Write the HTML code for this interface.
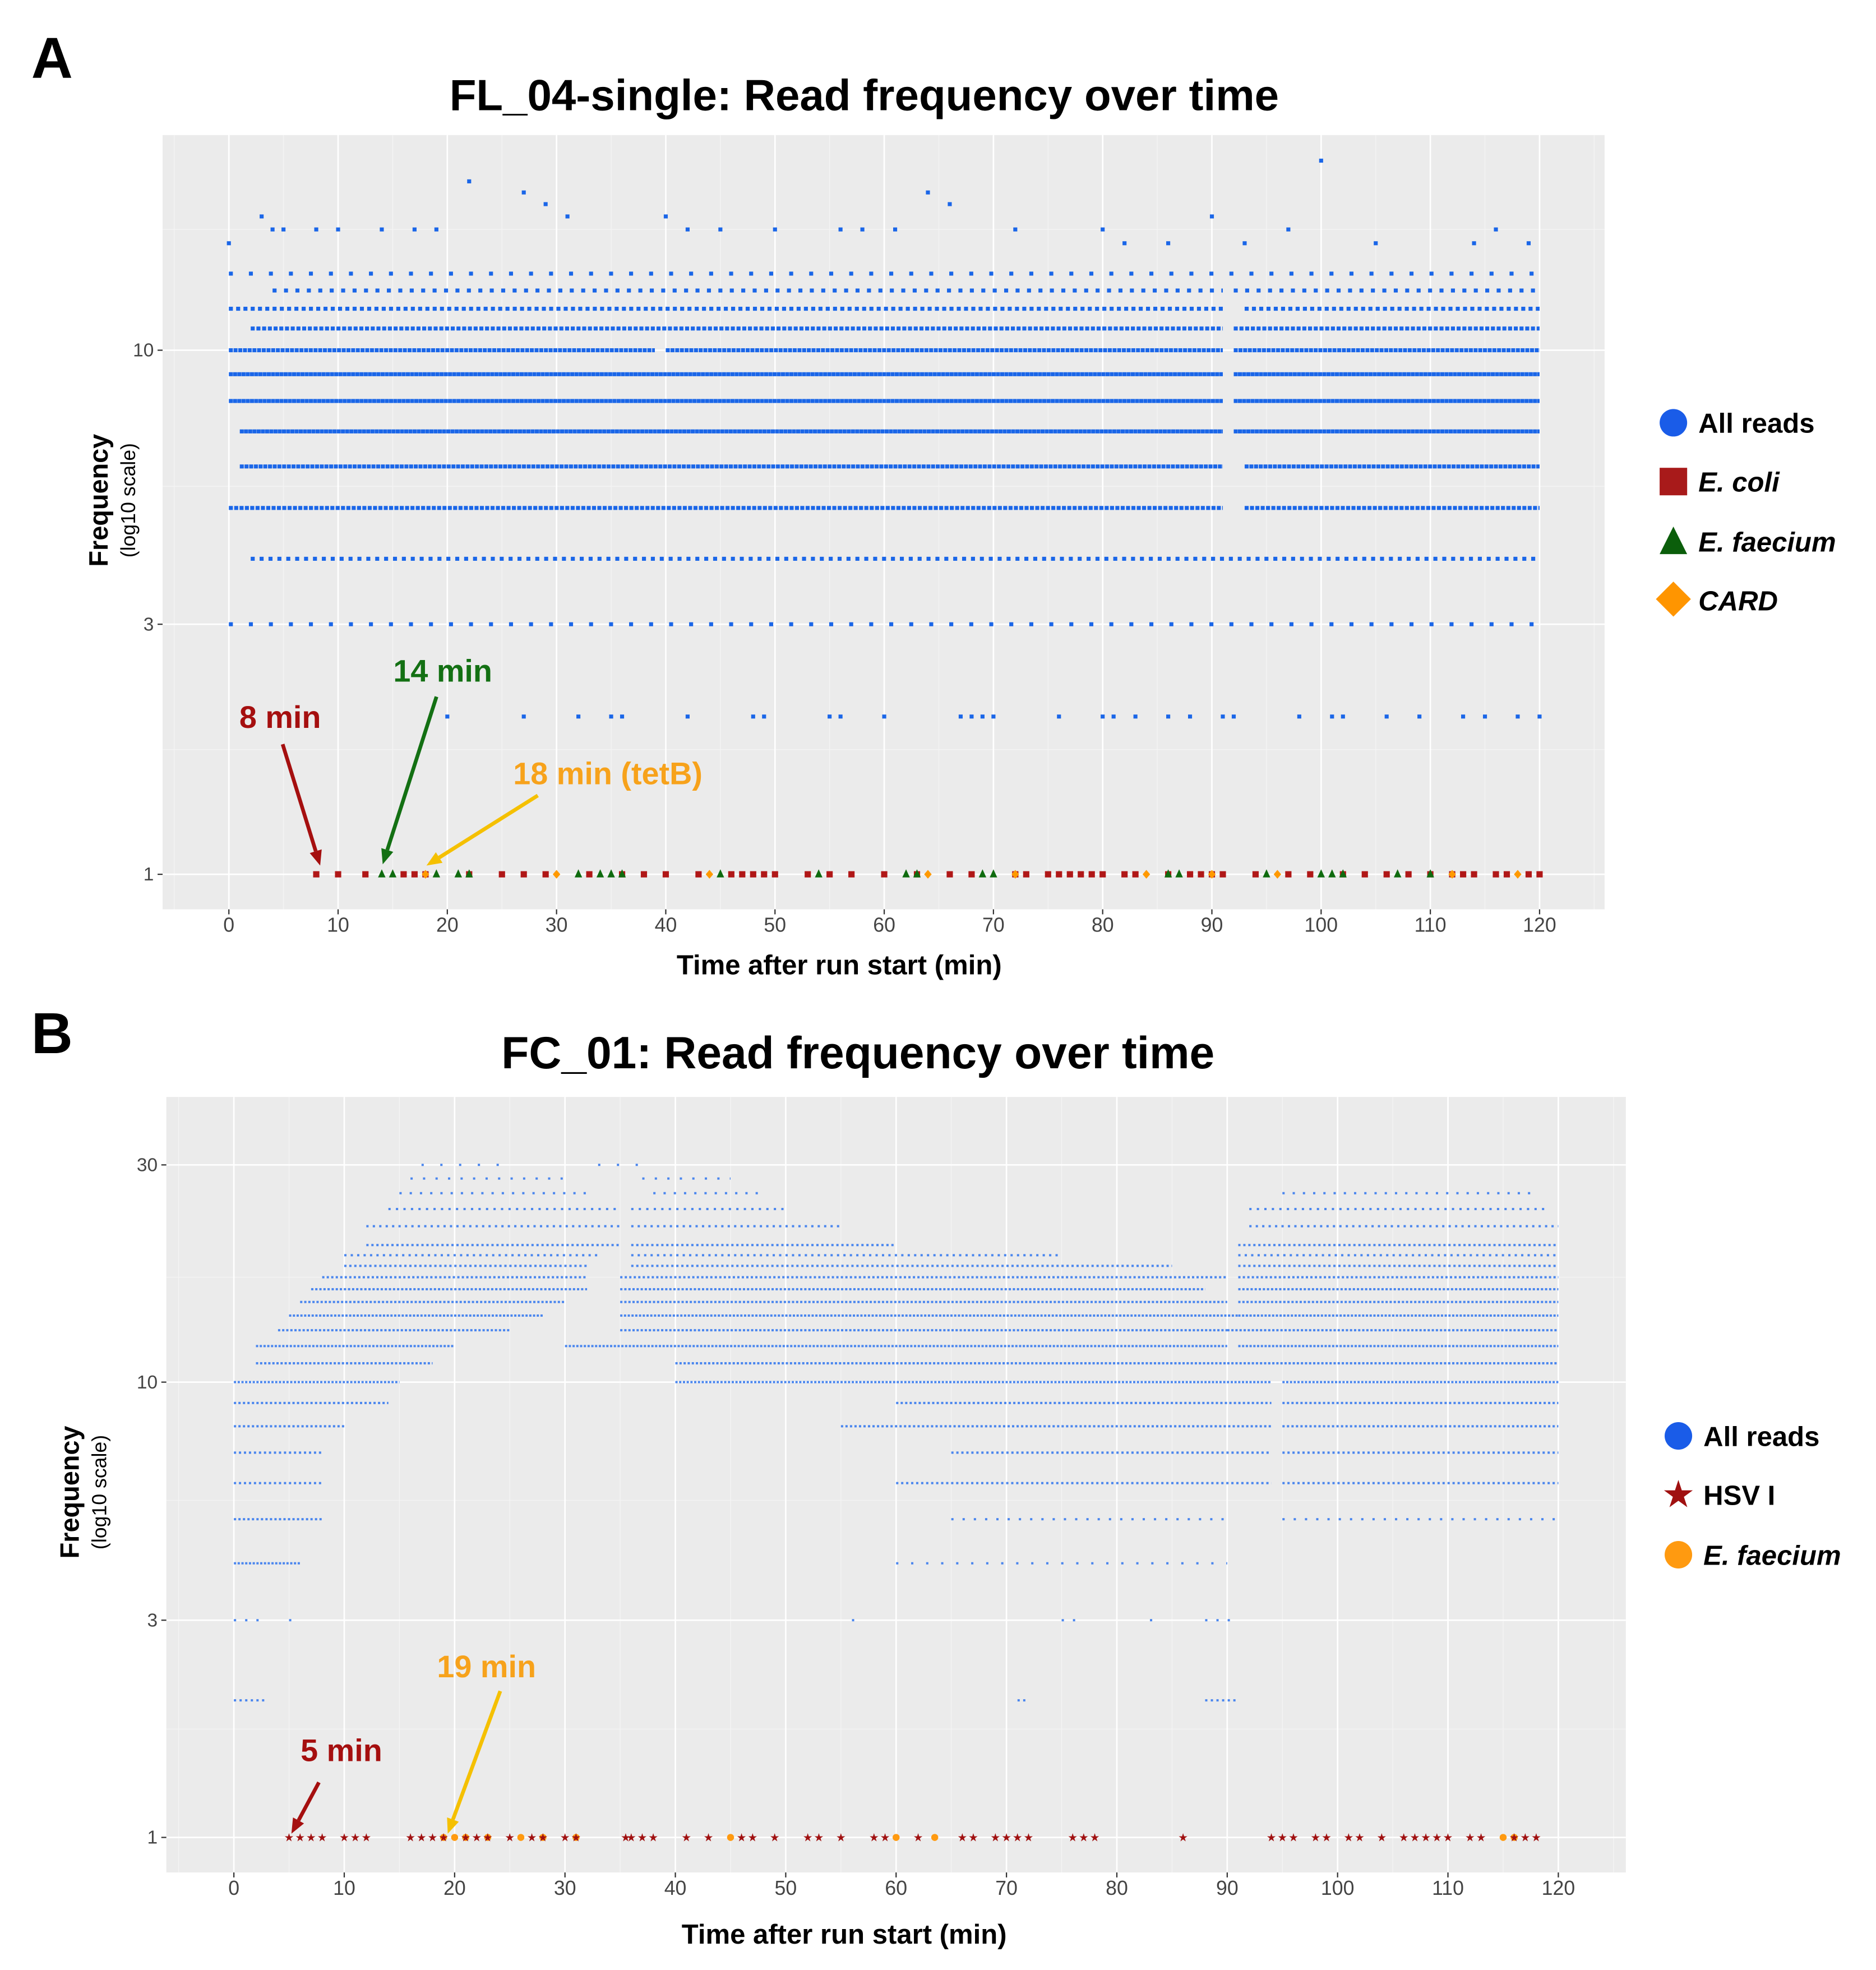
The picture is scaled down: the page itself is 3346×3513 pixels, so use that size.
<!DOCTYPE html>
<html><head><meta charset="utf-8">
<style>
html,body{margin:0;padding:0;background:#fff;}
svg{display:block;font-family:"Liberation Sans",sans-serif;}
</style></head>
<body>
<svg id="fig" width="3346" height="3513" viewBox="0 0 1500 1575" preserveAspectRatio="none">
  <g id="panelA"></g>
  <g id="panelB"></g>
</svg>
<script>
// ===== Panel A data =====
const aLevels = [3,4,5,6,7,8,9,10,11,12,13,14];
const aSegments = [
  [[0,120]],
  [[2,120]],
  [[0,91],[93,120]],
  [[1,91],[93,120]],
  [[1,91],[92,120]],
  [[0,91],[92,120]],
  [[0,91],[92,120]],
  [[0,39],[40,91],[92,120]],
  [[2,91],[92,120]],
  [[0,91],[93,120]],
  [[4,91],[92,120]],
  [[0,120]]
];
const aDensity = [0.2,0.45,0.75,0.85,0.95,0.95,0.95,0.85,0.7,0.55,0.35,0.2];
const aFreq2Times = [20,27,32,35,36,42,48,49,55,56,60,67,68,69,70,76,80,81,83,86,88,91,92,98,101,102,106,109,113,115,118,120];
const aHighTimes = [0,3,4,5,8,10,14,17,19,22,27,29,31,40,42,45,50,56,58,61,64,66,72,80,82,86,90,93,97,100,105,114,116,119];
const aHighFreq  = [16,18,17,17,17,17,17,17,17,21,20,19,18,18,17,17,17,17,17,17,20,19,17,17,16,16,18,16,17,23,16,16,17,16];
const aEcoli = [8,10,12.5,16,17,18,22,25,27,29,33,36,38,40,43,46,47,48,49,50,53,55,57,60,63,66,68,72,73,75,76,77,78,79,80,82,83,86,88,89,90,91,94,97,99,102,104,106,108,110,112,113,114,116,117,119,120];
const aFaecium = [14,15,19,21,22,32,34,35,36,45,54,62,63,69,70,86,87,95,100,101,102,107,110];
const aCard = [18,30,44,64,72,84,90,96,112,118];

// ===== Panel B data =====
const bLevels = [2,3,4,4,5,5,6,7,8,9,10,11,12,13,14,15,16,17,18,19,20,22,24,26,28,30];
const bSegments = [
  [[0,3],[71,72],[88,91]],
  [[0,3],[5,6],[56,57],[75,77],[83,84],[88,91]],
  [[0,6]],
  [[60,90]],
  [[0,8]],
  [[65,90],[95,120]],
  [[0,8],[60,94],[95,120]],
  [[0,8],[65,94],[95,120]],
  [[0,10],[55,94],[95,120]],
  [[0,14],[60,94],[95,120]],
  [[0,15],[40,94],[95,120]],
  [[2,18],[40,90],[90,120]],
  [[2,20],[30,90],[91,120]],
  [[4,25],[35,90],[90,120]],
  [[5,28],[35,91],[91,120]],
  [[6,30],[35,90],[91,120]],
  [[7,32],[35,88],[91,120]],
  [[8,32],[35,90],[91,120]],
  [[10,32],[36,85],[91,120]],
  [[10,33],[36,75],[91,120]],
  [[12,35],[36,60],[91,120]],
  [[12,35],[36,55],[92,120]],
  [[14,35],[36,50],[92,119]],
  [[15,32],[38,48],[95,118]],
  [[16,30],[37,45]],
  [[17,25],[33,38]]
];
const bDensity = [0.4,0.2,0.6,0.15,0.5,0.2,0.45,0.45,0.5,0.5,0.6,0.55,0.6,0.55,0.6,0.55,0.55,0.5,0.45,0.35,0.45,0.35,0.3,0.22,0.18,0.12];
const bHsv = [5,6,7,8,10,11,12,16,17,18,19,21,22,23,25,27,28,30,31,35.5,36,37,38,41,43,46,47,49,52,53,55,58,59,62,66,67,69,70,71,72,76,77,78,86,94,95,96,98,99,101,102,104,106,107,108,109,110,112,113,116,117,118];
const bFaecium = [19,20,21,23,26,28,31,45,60,63.5,115,116];

// ===== helpers =====
const NS = 'http://www.w3.org/2000/svg';
function mk(parent, tag, attrs, text){
  const e = document.createElementNS(NS, tag);
  for (const k in attrs) e.setAttribute(k, attrs[k]);
  if (text !== undefined) e.textContent = text;
  parent.appendChild(e);
  return e;
}

function drawPanel(g, cfg){
  const {x0,x1,y0,y1,t0px,t120px,yOne,decade} = cfg;
  const xs = t => t0px + (t120px - t0px) * t / 120;
  const ys = f => yOne - decade * Math.log10(f);
  const bg = mk(g,'rect',{x:x0,y:y0,width:x1-x0,height:y1-y0,fill:'#ebebeb'});
  
  
  for (let t=-5; t<=125; t+=10){
    const x = xs(t); if (x<=x0||x>=x1) continue;
    mk(g,'line',{x1:x,x2:x,y1:y0,y2:y1,stroke:'#f4f4f4','stroke-width':0.6});
  }
  cfg.minorY.forEach(f=>{ const y=ys(f); mk(g,'line',{x1:x0,x2:x1,y1:y,y2:y,stroke:'#f4f4f4','stroke-width':0.6}); });
  for (let t=0; t<=120; t+=10){
    const x = xs(t);
    const gl = mk(g,'line',{x1:x,x2:x,y1:y0,y2:y1,stroke:'#fff','stroke-width':1.2});
    
    
    mk(g,'line',{x1:x,x2:x,y1:y1,y2:y1+4,stroke:'#333','stroke-width':1});
    const tl = mk(g,'text',{x:x,y:y1+18,'font-size':16,fill:'#444','text-anchor':'middle'}, String(t));
    
    
  }
  cfg.yTicks.forEach(f=>{
    const y = ys(f);
    const gl = mk(g,'line',{x1:x0,x2:x1,y1:y,y2:y,stroke:'#fff','stroke-width':1.2});
    
    
    mk(g,'line',{x1:x0-4,x2:x0,y1:y,y2:y,stroke:'#333','stroke-width':1});
    const tl = mk(g,'text',{x:x0-7,y:y+5,'font-size':15,fill:'#444','text-anchor':'end'}, String(f));
    
    
  });
  cfg.levels.forEach((lvl,i)=>{
    const d = cfg.density[i];
    const dash = cfg.dot, gap = cfg.dot*(1/d - 1);
    cfg.segments[i].forEach(s=>{
      const ln = mk(g,'line',{x1:xs(s[0]),x2:xs(s[1]),y1:ys(lvl),y2:ys(lvl),stroke:cfg.blue,
        'stroke-width':cfg.dotH,'stroke-dasharray':dash+' '+gap.toFixed(2)});
      
      
    });
  });
  if (cfg.extraPts) cfg.extraPts.forEach(p=>{
    const c = mk(g,'rect',{x:xs(p[0])-cfg.dot/2,y:ys(p[1])-cfg.dotH/2,width:cfg.dot,height:cfg.dotH,fill:cfg.blue});
    
    
  });
  return {xs,ys};
}

function arrow(g, x1,y1,x2,y2,color,name){
  const a = Math.atan2(y2-y1,x2-x1), L=12, W=5;
  const bx = x2 - L*Math.cos(a), by = y2 - L*Math.sin(a);
  const ln = mk(g,'line',{x1:x1,y1:y1,x2:bx,y2:by,stroke:color,'stroke-width':3});
  
  
  const p = mk(g,'polygon',{points:`${x2},${y2} ${bx+W*Math.sin(a)},${by-W*Math.cos(a)} ${bx-W*Math.sin(a)},${by+W*Math.cos(a)}`,fill:color});
  
  
}
function txt(g,x,y,s,size,attrs,name){
  const t = mk(g,'text',Object.assign({x:x,y:y,'font-size':size,'font-weight':'bold'},attrs||{}), s);
  
  
  return t;
}

// ===== Panel A =====
const gA = document.getElementById('panelA');
txt(gA,25,62,'A',46,{},'panel-a-letter');
txt(gA,691,88,'FL_04-single: Read frequency over time',35,{'text-anchor':'middle'},'panel-a-title');
const aHigh = aHighTimes.map((t,i)=>[t,aHighFreq[i]]);
const aFreq2 = aFreq2Times.map(t=>[t,2]);
const A = drawPanel(gA,{id:'a',x0:130,x1:1283,y0:108,y1:727,t0px:183,t120px:1231,yOne:699,decade:419,
  yTicks:[1,3,10],minorY:[1.73,5.5,17],levels:aLevels,segments:aSegments,density:aDensity,
  blue:'#1a66e8',dot:3.2,dotH:3.2,extraPts:aFreq2.concat(aHigh)});
aEcoli.forEach(t=>{
  const r = mk(gA,'rect',{x:A.xs(t)-2.5,y:A.ys(1)-2.5,width:5,height:5,fill:'#b01717'});
  
  
});
aFaecium.forEach(t=>{
  const x=A.xs(t), y=A.ys(1);
  const p = mk(gA,'polygon',{points:`${x},${y-4} ${x-3},${y+2.5} ${x+3},${y+2.5}`,fill:'#0f6b0f'});
  
  
});
aCard.forEach(t=>{
  const x=A.xs(t), y=A.ys(1);
  const p = mk(gA,'polygon',{points:`${x},${y-3.5} ${x+3},${y} ${x},${y+3.5} ${x-3},${y}`,fill:'#ff9900'});
  
  
});
txt(gA,671,779,'Time after run start (min)',22,{'text-anchor':'middle'},'panel-a-x-axis-title');
txt(gA,0,0,'Frequency',21,{transform:'translate(86,400) rotate(-90)','text-anchor':'middle'},'panel-a-y-axis-title');
txt(gA,0,0,'(log10 scale)',16,{transform:'translate(108,400) rotate(-90)','text-anchor':'middle','font-weight':'normal'},'panel-a-y-axis-subtitle');
txt(gA,224,582,'8 min',25,{fill:'#a50f0f','text-anchor':'middle'},'annotation-8-min');
arrow(gA,226,595,256,692,'#a50f0f','arrow-8-min');
txt(gA,354,545,'14 min',25,{fill:'#137013','text-anchor':'middle'},'annotation-14-min');
arrow(gA,349,557,306,691,'#137013','arrow-14-min');
txt(gA,486,627,'18 min (tetB)',25,{fill:'#f7a21b','text-anchor':'middle'},'annotation-18-min');
arrow(gA,430,636,341,692,'#f5c000','arrow-18-min');
const lgA = mk(gA,'g',{});


mk(lgA,'circle',{cx:1338,cy:338,r:11,fill:'#1a5ce8'});
mk(lgA,'rect',{x:1327,y:374,width:22,height:22,fill:'#a81a1a'});
mk(lgA,'polygon',{points:'1338,421 1327,443 1349,443',fill:'#0b5e0b'});
mk(lgA,'polygon',{points:'1338,465 1352,479 1338,493 1324,479',fill:'#ff9500'});
txt(lgA,1358,346,'All reads',22,{},'legend-all-reads');
txt(lgA,1358,393,'E. coli',22,{'font-style':'italic'},'legend-ecoli');
txt(lgA,1358,441,'E. faecium',22,{'font-style':'italic'},'legend-efaecium');
txt(lgA,1358,488,'CARD',22,{'font-style':'italic'},'legend-card');

// ===== Panel B =====
const gB = document.getElementById('panelB');
txt(gB,25,842,'B',46,{},'panel-b-letter');
txt(gB,686,854,'FC_01: Read frequency over time',36,{'text-anchor':'middle'},'panel-b-title');
const B = drawPanel(gB,{id:'b',x0:133,x1:1300,y0:877,y1:1497,t0px:187,t120px:1246,yOne:1469,decade:364,
  yTicks:[1,3,10,30],minorY:[1.73,5.5,17],levels:bLevels,segments:bSegments,density:bDensity,
  blue:'#4a86ee',dot:1.8,dotH:1.8});
bFaecium.forEach(t=>{
  const c = mk(gB,'circle',{cx:B.xs(t),cy:B.ys(1),r:2.8,fill:'#ff9a10'});
  
  
});
bHsv.forEach(t=>{
  const x=B.xs(t), y=B.ys(1);
  const s = mk(gB,'text',{x:x,y:y+3,'font-size':9,fill:'#a01010','text-anchor':'middle'},'★');
  
  
});
txt(gB,675,1554,'Time after run start (min)',22,{'text-anchor':'middle'},'panel-b-x-axis-title');
txt(gB,0,0,'Frequency',21,{transform:'translate(63,1193) rotate(-90)','text-anchor':'middle'},'panel-b-y-axis-title');
txt(gB,0,0,'(log10 scale)',16,{transform:'translate(85,1193) rotate(-90)','text-anchor':'middle','font-weight':'normal'},'panel-b-y-axis-subtitle');
txt(gB,273,1408,'5 min',25,{fill:'#a50f0f','text-anchor':'middle'},'annotation-5-min');
arrow(gB,255,1425,233,1466,'#a50f0f','arrow-5-min');
txt(gB,389,1341,'19 min',25,{fill:'#f7a21b','text-anchor':'middle'},'annotation-19-min');
arrow(gB,400,1352,358,1466,'#f5c000','arrow-19-min');
const lgB = mk(gB,'g',{});


mk(lgB,'circle',{cx:1342,cy:1148,r:11,fill:'#1a5ce8'});
mk(lgB,'text',{x:1342,y:1205,'font-size':30,fill:'#a01010','text-anchor':'middle'},'★');
mk(lgB,'circle',{cx:1342,cy:1243,r:11,fill:'#ff9a10'});
txt(lgB,1362,1156,'All reads',22,{},'legend-b-all-reads');
txt(lgB,1362,1203,'HSV I',22,{},'legend-b-hsv');
txt(lgB,1362,1251,'E. faecium',22,{'font-style':'italic'},'legend-b-efaecium');
</script>
</body></html>
